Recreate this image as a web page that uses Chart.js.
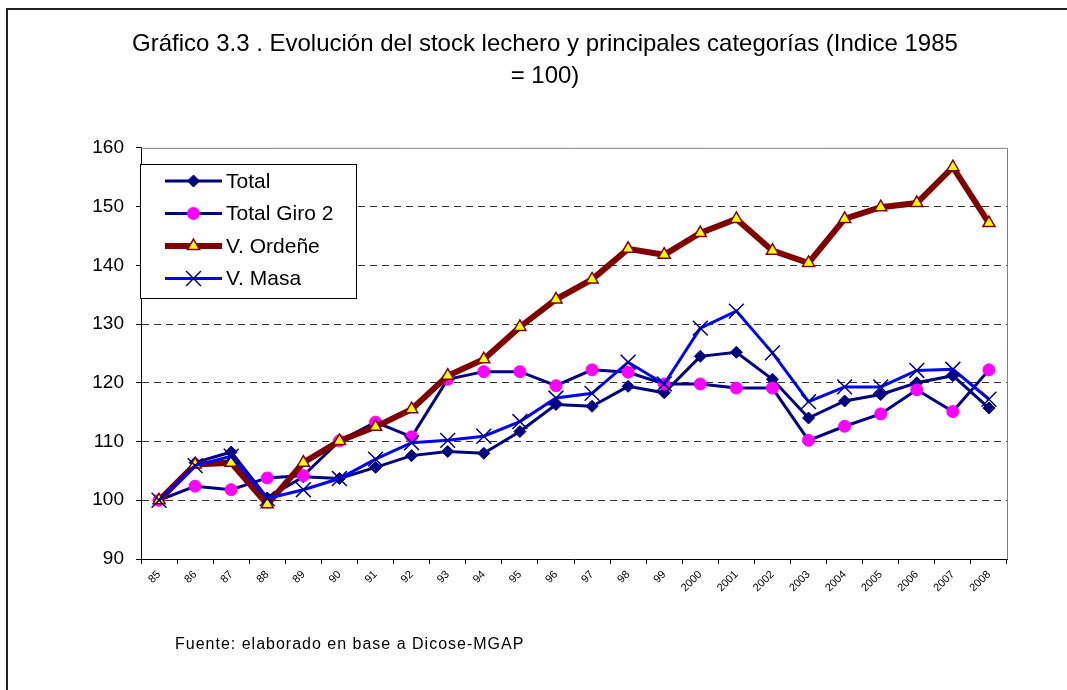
<!DOCTYPE html>
<html>
<head>
<meta charset="utf-8">
<script src="https://cdn.jsdelivr.net/npm/chart.js@4"></script>
<style>
  body { margin: 0; background: #fff; overflow: hidden; }
  #wrap { position: relative; width: 1067px; height: 690px; }
</style>
</head>
<body>
<div id="wrap"><canvas id="stockChart" width="1067" height="690"></canvas></div>
<script>
const years = ["85", "86", "87", "88", "89", "90", "91", "92", "93", "94", "95", "96",
  "97", "98", "99", "2000", "2001", "2002", "2003", "2004", "2005", "2006", "2007", "2008"];

const total = [100, 106.4, 108.2, 100.4, 104, 103.7, 105.6, 107.6, 108.3, 108.0, 111.7, 116.3,
  116.0, 119.4, 118.3, 124.5, 125.2, 120.6, 114.0, 116.9, 118.0, 120.0, 121.2, 115.7];
const totalGiro2 = [100, 102.4, 101.8, 103.8, 104.2, 110.1, 113.3, 110.8, 120.6, 121.9, 121.9, 119.5,
  122.2, 121.8, 119.8, 119.8, 119.1, 119.1, 110.2, 112.6, 114.7, 118.8, 115.1, 122.2];
const vOrdene = [100, 106.1, 106.4, 99.3, 106.4, 110.1, 112.5, 115.5, 121.2, 124.0, 129.5, 134.2,
  137.6, 142.8, 141.8, 145.5, 147.9, 142.5, 140.4, 147.9, 149.9, 150.6, 156.7, 147.2];
const vMasa = [100, 105.9, 107.5, 100.3, 101.8, 103.7, 107.0, 109.8, 110.2, 110.9, 113.4, 117.4,
  118.2, 123.5, 119.8, 129.3, 132.2, 125.1, 116.8, 119.3, 119.3, 122.1, 122.3, 117.2];

const yTicks = [90, 100, 110, 120, 130, 140, 150, 160];

const FONT = "'Liberation Sans', Arial, sans-serif";

// frame, plot border, legend box and source note
const decoPlugin = {
  id: "deco",
  beforeDraw(chart) {
    const ctx = chart.ctx;
    ctx.save();
    ctx.strokeStyle = "#222";
    ctx.lineWidth = 2;
    ctx.beginPath();
    ctx.moveTo(7, 700);
    ctx.lineTo(7, 9);
    ctx.lineTo(1070, 9);
    ctx.stroke();
    ctx.restore();
  },
  beforeDatasetsDraw(chart) {
    const ctx = chart.ctx;
    const a = chart.chartArea;
    ctx.save();
    ctx.strokeStyle = "#808080";
    ctx.lineWidth = 1;
    ctx.beginPath();
    ctx.moveTo(a.left, a.top + 0.5);
    ctx.lineTo(a.right + 0.5, a.top + 0.5);
    ctx.lineTo(a.right + 0.5, a.bottom);
    ctx.stroke();
    ctx.restore();
  },
  afterDraw(chart) {
    const ctx = chart.ctx;
    ctx.save();
    // legend
    ctx.fillStyle = "#fff";
    ctx.strokeStyle = "#000";
    ctx.lineWidth = 1;
    ctx.fillRect(140.5, 164.5, 216, 134);
    ctx.strokeRect(140.5, 164.5, 216, 134);
    chart.data.datasets.forEach((ds, i) => {
      const y = 181 + i * 32.5;
      ctx.strokeStyle = ds.borderColor;
      ctx.lineWidth = ds.borderWidth;
      ctx.beginPath();
      ctx.moveTo(165, y);
      ctx.lineTo(222, y);
      ctx.stroke();
      ctx.fillStyle = ds.pointBackgroundColor;
      ctx.strokeStyle = ds.pointBorderColor;
      ctx.lineWidth = ds.pointBorderWidth;
      Chart.helpers.drawPoint(ctx, {
        pointStyle: ds.pointStyle,
        radius: ds.pointRadius,
        rotation: 0,
        borderWidth: ds.pointBorderWidth
      }, 193.5, y);
      ctx.fillStyle = "#000";
      ctx.font = "21px " + FONT;
      ctx.textBaseline = "middle";
      ctx.fillText(ds.label, 226, y + 1);
    });
    // source note
    ctx.fillStyle = "#000";
    ctx.font = "16px " + FONT;
    ctx.letterSpacing = "1px";
    ctx.textBaseline = "middle";
    ctx.fillText("Fuente: elaborado en base a Dicose-MGAP", 175, 645);
    ctx.restore();
  }
};

new Chart(document.getElementById("stockChart"), {
  type: "line",
  data: {
    labels: years,
    datasets: [
      {
        label: "Total",
        data: total,
        borderColor: "#000080",
        borderWidth: 3,
        pointStyle: "rectRot",
        pointRadius: 6,
        pointBackgroundColor: "#000080",
        pointBorderColor: "#000080",
        pointBorderWidth: 1,
        order: 4
      },
      {
        label: "Total Giro 2",
        data: totalGiro2,
        borderColor: "#000080",
        borderWidth: 3,
        pointStyle: "circle",
        pointRadius: 6,
        pointBackgroundColor: "#FF00FF",
        pointBorderColor: "#FF00FF",
        pointBorderWidth: 1,
        order: 3
      },
      {
        label: "V. Ordeñe",
        data: vOrdene,
        borderColor: "#800000",
        borderWidth: 6,
        pointStyle: "triangle",
        pointRadius: 7,
        pointBackgroundColor: "#FFFF00",
        pointBorderColor: "#800000",
        pointBorderWidth: 1.5,
        order: 2
      },
      {
        label: "V. Masa",
        data: vMasa,
        borderColor: "#0000FF",
        borderWidth: 3,
        pointStyle: "crossRot",
        pointRadius: 10.5,
        pointBackgroundColor: "#000080",
        pointBorderColor: "#000080",
        pointBorderWidth: 1.5,
        order: 1
      }
    ]
  },
  options: {
    responsive: false,
    animation: false,
    tension: 0,
    layout: { padding: { left: 83, right: 60, top: 0, bottom: 0 } },
    plugins: {
      legend: { display: false },
      tooltip: { enabled: false },
      title: {
        display: true,
        text: ["Gráfico 3.3 . Evolución del stock lechero y principales categorías (Indice 1985", "= 100)"],
        color: "#000",
        font: { family: FONT, size: 24, weight: "normal", lineHeight: 1.33 },
        padding: { top: 28, bottom: 56 }
      }
    },
    scales: {
      x: {
        offset: true,
        grid: {
          offset: true,
          drawOnChartArea: false,
          tickLength: 5,
          tickColor: "#000"
        },
        border: { color: "#000", width: 1 },
        ticks: {
          color: "#000",
          font: { family: FONT, size: 11 },
          minRotation: 45,
          maxRotation: 45,
          autoSkip: false,
          padding: 4
        },
        afterFit(scale) { scale.height = 131; }
      },
      y: {
        min: yTicks[0],
        max: yTicks[yTicks.length - 1],
        afterBuildTicks(scale) { scale.ticks = yTicks.map(v => ({ value: v })); },
        grid: {
          color: (c) => (c.tick && (c.tick.value === 90 || c.tick.value === 160)) ? "rgba(0,0,0,0)" : "#333",
          tickColor: "#000",
          tickLength: 5
        },
        border: { color: "#000", width: 1, dash: [7, 5] },
        ticks: {
          color: "#000",
          font: { family: FONT, size: 19 },
          padding: 12
        },
        afterFit(scale) { scale.width = 58; }
      }
    }
  },
  plugins: [decoPlugin]
});
</script>
</body>
</html>
